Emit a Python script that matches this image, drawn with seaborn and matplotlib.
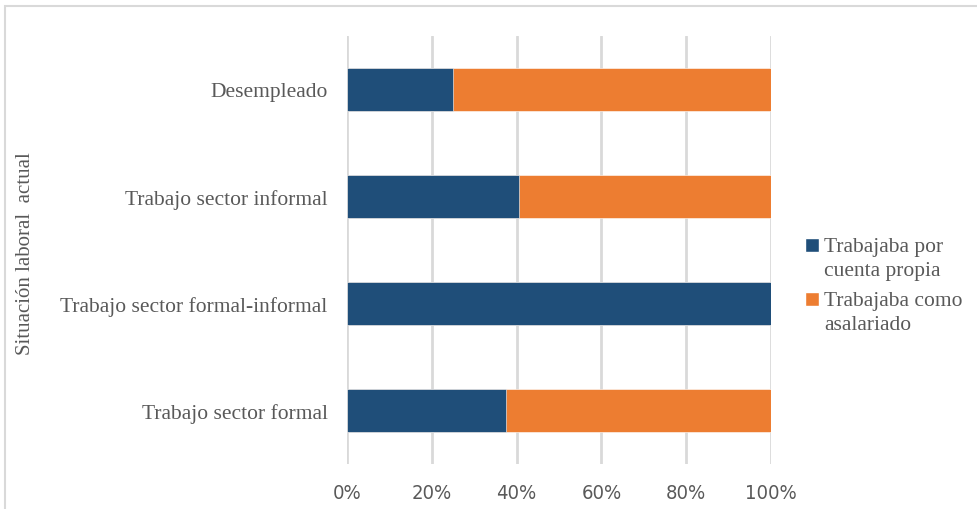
import matplotlib
matplotlib.use("Agg")
import matplotlib.pyplot as plt
from matplotlib.patches import Rectangle, Patch
from matplotlib.legend_handler import HandlerPatch
import seaborn as sns
import pandas as pd

categories = ["Desempleado", "Trabajo sector informal",
              "Trabajo sector formal-informal", "Trabajo sector formal"]
cuenta_propia = [25.0, 40.6, 100.0, 37.5]
asalariado = [75.0, 59.4, 0.0, 62.5]
series_names = ["Trabajaba por\ncuenta propia", "Trabajaba como\nasalariado"]
tick_values = [0, 20, 40, 60, 80, 100]
tick_labels = ["0%", "20%", "40%", "60%", "80%", "100%"]

BLUE = "#1F4E79"
ORANGE = "#ED7D31"
TEXT = "#595959"

df = pd.DataFrame({
    "categoria": categories,
    "propia": cuenta_propia,
    "total": [p + a for p, a in zip(cuenta_propia, asalariado)],
})

sns.set_theme(style="white")
serif = ["Liberation Serif", "DejaVu Serif"]

fig = plt.figure(figsize=(9.78, 5.10), dpi=100)
W, H = 978, 510
ax = fig.add_axes([347 / W, 1 - 465 / H, (771 - 347) / W, (465 - 37) / H])

# stacked bars: full length in orange, own-account share in blue on top
sns.barplot(data=df, x="total", y="categoria", orient="h", color=ORANGE,
            width=0.4, ax=ax, saturation=1, edgecolor="white", linewidth=0.4)
sns.barplot(data=df, x="propia", y="categoria", orient="h", color=BLUE,
            width=0.4, ax=ax, saturation=1, edgecolor="white", linewidth=0.4)

ax.set_xlim(0, 100)
ax.set_ylim(3.5, -0.5)
ax.set_xticks(tick_values)
ax.set_xticklabels(tick_labels, family="DejaVu Sans", stretch="condensed",
                   fontsize=14.5, color=TEXT)
ax.set_yticks(range(len(categories)))
ax.set_yticklabels(categories, family=serif, fontsize=15.5, color=TEXT)
ax.tick_params(axis="x", length=0, pad=14)
ax.tick_params(axis="y", length=0, pad=14)
ax.set_xlabel("")
ax.set_ylabel("")
for s in ax.spines.values():
    s.set_visible(False)
ax.grid(axis="x", color="#D9D9D9", linewidth=2)
ax.set_axisbelow(True)

fig.text(26 / W, 1 - 254 / H, "Situación laboral  actual", rotation=90,
         ha="center", va="center", family=serif, fontsize=15, color=TEXT)


def top_aligned_square(legend, orig_handle, xdescent, ydescent,
                       width, height, fontsize):
    # keep the swatch level with the first line of a two-line label
    return Rectangle((-xdescent, -ydescent + 0.6 * fontsize), width, height)


handles = [Patch(facecolor=BLUE), Patch(facecolor=ORANGE)]
leg = fig.legend(handles, series_names, loc="upper left",
                 bbox_to_anchor=(786 / W, 1 - 219 / H), frameon=False,
                 prop={"family": serif, "size": 15.5}, handlelength=0.62,
                 handleheight=0.62, handletextpad=0.25, labelspacing=0.55,
                 handler_map={Patch: HandlerPatch(patch_func=top_aligned_square)})
for t in leg.get_texts():
    t.set_color(TEXT)
    t.set_linespacing(1.3)

fig.patches.append(Rectangle((5 / W, -0.1), 1.2, 1.1 - 7 / H,
                             transform=fig.transFigure, fill=False,
                             edgecolor="#D9D9D9", linewidth=1.5))

fig.savefig("out.png", dpi=100, facecolor="white")
